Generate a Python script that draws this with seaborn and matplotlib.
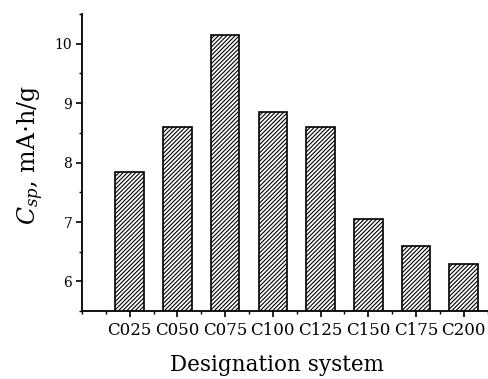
import matplotlib
matplotlib.use("Agg")
import matplotlib.pyplot as plt
from matplotlib.ticker import MultipleLocator, FixedLocator
import seaborn as sns
import pandas as pd

# Specific capacity per sample
samples = ["C025", "C050", "C075", "C100", "C125", "C150", "C175", "C200"]
capacity = [7.85, 8.6, 10.15, 8.85, 8.6, 7.05, 6.6, 6.3]
y_ticks = [6, 7, 8, 9, 10]

sns.set_theme(style="ticks")
plt.rcParams["font.family"] = ["DejaVu Serif"]
plt.rcParams["mathtext.fontset"] = "dejavuserif"
plt.rcParams["hatch.linewidth"] = 0.8
plt.rcParams["hatch.color"] = "#444444"

df = pd.DataFrame({"sample": samples, "capacity": capacity})

fig = plt.figure(figsize=(4.88, 3.79), dpi=100)
ax = fig.add_axes([0.168, 0.179, 0.831, 0.784])

sns.barplot(data=df, x="sample", y="capacity", ax=ax, color="white",
            edgecolor="black", linewidth=1.2, width=0.6, hatch="////////",
            saturation=1)

ax.set_xlim(-1, 7.5)
ax.set_ylim(5.5, 10.5)
ax.set_yticks(y_ticks)
ax.yaxis.set_minor_locator(MultipleLocator(0.5))
ax.xaxis.set_minor_locator(FixedLocator([i - 0.5 for i in range(9)] + [-1]))

sns.despine(ax=ax)
for s in ("left", "bottom"):
    ax.spines[s].set_linewidth(1.3)
    ax.spines[s].set_color("black")

ax.tick_params(axis="both", which="major", direction="out", length=4,
               width=1.2, color="black", labelcolor="black")
ax.tick_params(axis="both", which="minor", direction="out", length=2.5,
               width=1.0, color="black")
ax.tick_params(axis="x", which="major", labelsize=12, pad=4)
ax.tick_params(axis="y", which="major", labelsize=10, pad=3)

ax.set_xlabel("Designation system", fontsize=15.5, color="black")
ax.set_ylabel(r"$C_{sp}$, mA$\cdot$h/g", fontsize=17, color="black")
ax.xaxis.set_label_coords(0.481, -0.145)
ax.yaxis.set_label_coords(-0.088, 0.525)

fig.savefig("out.png", dpi=100)
